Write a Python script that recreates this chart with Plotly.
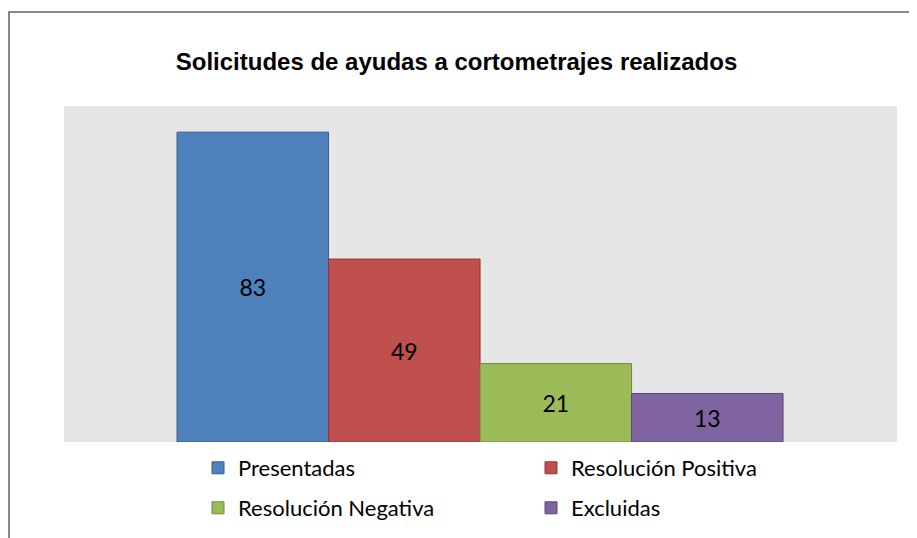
import plotly.graph_objects as go

categories = ["Presentadas", "Resolución Positiva", "Resolución Negativa", "Excluidas"]
values = [83, 49, 21, 13]
fill_colors = ["#4F81BD", "#C0504D", "#9BBB59", "#8064A2"]
line_colors = ["#385D8A", "#8C3836", "#71893F", "#5C4776"]
legend_ids = ["legend", "legend", "legend2", "legend2"]

# page body has an 8px margin; figure coordinates = screen - 8
OFF = 8
W, H = 917 - OFF, 538 - OFF
L, T = 64 - OFF, 106 - OFF
R = W - (897 - OFF)
B = H - (442 - OFF)

fig = go.Figure()
for i, (cat, val) in enumerate(zip(categories, values)):
    fig.add_trace(go.Bar(
        x=[i], y=[val], width=1, name=cat,
        marker=dict(color=fill_colors[i], line=dict(color=line_colors[i], width=1)),
        text=[str(val)], textposition="inside", insidetextanchor="middle",
        textangle=0, textfont=dict(family="Lato", size=23, color="black"),
        legend=legend_ids[i], hoverinfo="skip",
    ))

pw, ph = W - L - R, H - T - B

def px_x(p):
    return (p - L) / pw

def px_y(p):
    return (H - B - p) / ph

legend_common = dict(
    orientation="h", xanchor="left", yanchor="middle",
    font=dict(family="Lato", size=22, color="black"),
    entrywidth=288, entrywidthmode="pixels",
    bgcolor="rgba(0,0,0,0)", traceorder="normal",
)

fig.update_layout(
    width=W, height=H,
    margin=dict(l=L, r=R, t=T, b=B, autoexpand=False),
    paper_bgcolor="white", plot_bgcolor="#E6E6E6",
    barmode="overlay", showlegend=True,
    title=dict(text="<b>Solicitudes de ayudas a cortometrajes realizados</b>",
               font=dict(family="Liberation Sans", size=24, color="black"),
               x=(456.5 - OFF) / W, xref="container", xanchor="center",
               y=1 - (62 - OFF) / H, yref="container", yanchor="middle"),
    xaxis=dict(range=[-1.246, 4.252], visible=False, fixedrange=True),
    yaxis=dict(range=[0, 90], visible=False, fixedrange=True),
    legend=dict(x=px_x(190), y=px_y(460), **legend_common),
    legend2=dict(x=px_x(190), y=px_y(500), **legend_common),
    shapes=[dict(type="rect", xref="paper", yref="paper",
                 x0=px_x(1), x1=px_x(930), y0=px_y(560), y1=px_y(4),
                 line=dict(color="#888888", width=2), fillcolor="rgba(0,0,0,0)",
                 layer="above")],
)

fig.write_html("out.html")
